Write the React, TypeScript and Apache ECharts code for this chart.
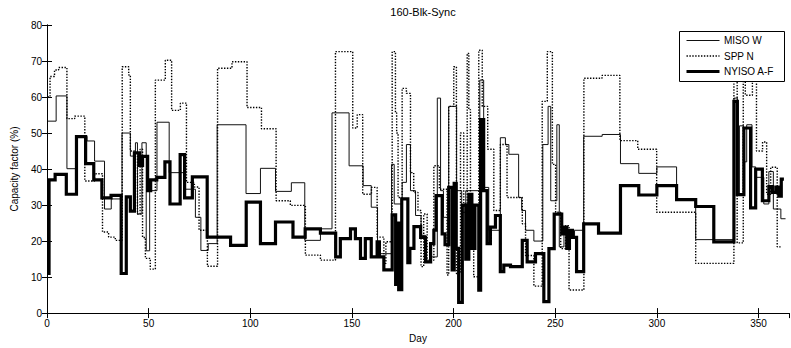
import React, { useEffect, useRef } from "react";
import * as echarts from "echarts";

const xTicks = [0, 50, 100, 150, 200, 250, 300, 350];
const yTicks = [0, 10, 20, 30, 40, 50, 60, 70, 80];
const seriesNames = ["MISO W", "SPP N", "NYISO A-F"];

const misoDays = [0.5,4.5,9.8,14,15,19.7,23.4,28.3,31.6,36.9,41,43.5,44.5,46.7,48.8,50.5,54.1,60.1,67.6,73,75.7,79.3,83.7,97.9,105,112.4,120.2,126.8,134.5,140.2,148.6,155.5,159.5,162.6,169.5,170.8,174.7,176.8,178.8,181.3,184,186.2,188.7,192,193.6,195,197.6,201.5,204,206,212.9,214.8,217.3,223,225.5,227.2,232,233.5,235.4,239.5,243.9,246.5,247.8,250.8,252,254.3,256,258,259.5,264,273.1,282.1,291.1,300,309.7,319.1,337.9,339.6,340.6,342.6,344.2,346.8,348.6,352.6,355.1,357.3,361,363.3];
const misoVals = [53.3,60.3,40.1,36.6,49.1,47.8,42.2,28.9,31.7,50,43.6,47.3,27.5,47.3,17.3,34,53,39,34.4,26.6,17.4,19.3,52.3,33.2,40.2,33.8,36.2,20.2,23.4,55.6,40.9,35.4,29.4,16.5,41.3,30.3,36.3,46.8,34,27.1,21.6,14.2,15.6,59.7,34,26.6,57.4,34,28,34,64.7,34.9,23,48.7,46.8,44.1,32.1,28.5,23,20,46.8,57.4,31.2,52.3,18.4,23.9,22.8,21,23,49.1,49.6,41.5,38.8,40.6,31.5,20.4,59.7,33,52,42,52.3,40.6,37.7,30.3,39.3,28.9,26.2,26.2];

const sppDays = [0.3,1.5,3.7,5.7,9.8,13.6,18.6,23.4,27.3,30.3,33.6,37,40.2,41,43,44.5,45.8,47,48.4,50.8,53.3,58.2,61.3,65.6,68.6,72.5,74.8,78.9,83.9,91,98.4,105.5,112.7,119.7,127.1,134.5,141.9,150.4,152.6,155.3,159.6,162.4,165.7,166.7,169.8,171.4,172,172.7,174.7,176.8,178.8,180.4,182.5,184,185.3,187,190.3,193,196.8,197.6,200.1,201.4,203.4,205,206.7,207.5,208.3,209.9,212.4,214.1,216.8,219.8,223,226.3,233.8,235.4,239.5,243.6,246.1,248.6,250.2,252.7,255.1,256.8,264.1,273,281.8,290.6,299.9,319.1,337.9,339.5,342.5,343.5,347,349,352,354,356,359.2,361.5];
const sppVals = [60,65.7,67.5,68.2,54,54.7,36.7,38.7,22.5,21.1,20.2,68.4,66.1,45,43.5,27.5,45.5,21,15.2,12.2,64.7,70.2,56.3,58.3,36.3,35,23,13,68,69.8,57.1,51.2,31.2,29.9,16.1,14.7,72.6,51.4,55.1,33,34.9,21.1,13.8,19.8,72.6,55.6,50,32.1,62.4,61,39,33.5,28.5,12.9,27.5,14.7,40.9,34.4,10.6,57.4,68.4,11,50,30.3,72.1,56.5,30,10.1,73,57.4,45.5,28.5,46.8,32.1,24.8,16,7.5,58.8,72.6,41.3,28,17.9,24.3,6.4,65.2,66,47.9,45.5,28,13.8,75,19.5,76,60.5,76,45,47.5,33,40.5,18.4,18.4];

const nyisoDays = [0,1,4,9.5,14.5,19,23,27,31.5,36.5,39,41,43,45.5,47,49.5,51,54,58,60.5,65.5,67.7,71.5,78.8,90.3,98,105,112.4,121,127,134.5,142,144.3,149.3,151.7,154.2,156.6,159.5,162.4,163.5,165.7,169.8,171.5,172.3,173,174.5,177.5,178.5,180.5,183.8,186.2,188.7,190.3,191.4,194.4,195.8,197.6,199.3,200.3,201.3,202.5,204.3,206,207.5,209,210.5,212.4,213.3,214.8,216.5,218.1,220.6,223,224.7,228,233.8,236.2,240.3,244.4,246.9,249.5,253.2,254.5,255.7,257,258.5,260.5,264,271.3,282.1,291.1,300,309.7,319.1,328,337.9,339.6,342.8,346.1,348.6,351.9,355.1,356.8,358.5,360,361.2,362.5];
const nyisoVals = [11,37,38.5,33,49,41.5,37,32,32.7,11,32.3,28.3,44.5,41,43.5,34,37,37.7,42,30.3,44,32,37.8,21.1,18.8,30.8,19.3,25.3,21.1,23.4,22.2,15.6,20.7,23.4,20.7,15.2,20.7,15.6,19.8,15.6,12,27.3,8,25,6.5,31.7,14,18,24,21,14.2,19.3,23,32.6,22,19,34.9,12,36,18,3,30,15,33,18,30,6.4,53.7,34,19.3,23.9,27.1,11.5,13.3,12.9,20.2,14.2,16.5,3.2,17.9,27.5,22,23.9,18,23,21,11.5,24.8,22.2,35.4,32.8,35.4,31.5,29.6,19.8,58.8,32.9,51.4,29.2,40,31.2,35.1,33.5,35,32.5,37.2,37.2];

const FONT = "'Liberation Sans', Arial, Helvetica, sans-serif";

function zip(days: number[], vals: number[]) {
  const n = Math.min(days.length, vals.length);
  const out: [number, number][] = [];
  for (let i = 0; i < n; i++) out.push([days[i], vals[i]]);
  return out;
}

export default function App() {
  const ref = useRef<HTMLDivElement>(null);
  useEffect(() => {
    if (!ref.current) return;
    const chart = echarts.init(ref.current, undefined, { renderer: "svg" });
    const axisCommon = {
      axisLine: { show: true, lineStyle: { color: "#000", width: 1 } },
      axisTick: { show: true, inside: true, length: 5, lineStyle: { color: "#000" } },
      splitLine: { show: false },
    };
    const legendStyles = [
      { stroke: "#111", lineWidth: 1 },
      { stroke: "#000", lineWidth: 1.4, lineDash: [1.4, 1.5] },
      { stroke: "#000", lineWidth: 3.2 },
    ];
    const legendRowY = [40.5, 56, 71.5];
    const legendChildren: any[] = [
      {
        type: "rect",
        z: 100,
        shape: { x: 679.5, y: 31.5, width: 105, height: 50 },
        style: { fill: "#fff", stroke: "#000", lineWidth: 1 },
      },
    ];
    seriesNames.forEach((nm, i) => {
      legendChildren.push({
        type: "line",
        z: 101,
        shape: { x1: 686.5, y1: legendRowY[i], x2: 719.5, y2: legendRowY[i] },
        style: legendStyles[i],
      });
      legendChildren.push({
        type: "text",
        z: 101,
        style: {
          text: nm,
          x: 724,
          y: legendRowY[i],
          fill: "#000",
          font: `10px ${FONT}`,
          verticalAlign: "middle",
          align: "left",
        },
      });
    });
    chart.setOption({
      animation: false,
      backgroundColor: "#fff",
      textStyle: { fontFamily: FONT },
      title: {
        text: "160-Blk-Sync",
        left: 418,
        textAlign: "center",
        top: 1,
        textStyle: { fontSize: 11, fontWeight: "normal", color: "#000", fontFamily: FONT },
      },
      grid: { left: 47, right: 2, top: 25, bottom: 31, containLabel: false },
      graphic: legendChildren,
      xAxis: [
        {
          type: "value",
          min: 0,
          max: 365,
          interval: 50,
          position: "bottom",
          ...axisCommon,
          axisLabel: {
            color: "#000",
            fontSize: 10,
            fontFamily: FONT,
            margin: 5,
            showMaxLabel: false,
            formatter: (v: number) => (xTicks.indexOf(v) >= 0 ? String(v) : ""),
          },
          name: "Day",
          nameLocation: "middle",
          nameGap: 18,
          nameTextStyle: { color: "#000", fontSize: 10, fontFamily: FONT },
        },
        {
          type: "value",
          min: 0,
          max: 365,
          interval: 50,
          position: "top",
          ...axisCommon,
          axisLabel: { show: false },
        },
      ],
      yAxis: [
        {
          type: "value",
          min: 0,
          max: 80,
          interval: 10,
          position: "left",
          ...axisCommon,
          axisLabel: {
            color: "#000",
            fontSize: 10,
            fontFamily: FONT,
            margin: 5,
            formatter: (v: number) => (yTicks.indexOf(v) >= 0 ? String(v) : ""),
          },
          name: "Capacity factor (%)",
          nameLocation: "middle",
          nameGap: 27,
          nameTextStyle: { color: "#000", fontSize: 10, fontFamily: FONT },
        },
        {
          type: "value",
          min: 0,
          max: 80,
          interval: 10,
          position: "right",
          ...axisCommon,
          axisLabel: { show: false },
        },
      ],
      series: [
        {
          name: seriesNames[0],
          type: "line",
          step: "end",
          symbol: "none",
          xAxisIndex: 0,
          yAxisIndex: 0,
          data: zip(misoDays, misoVals),
          lineStyle: { color: "#111", width: 1, type: "solid" },
          itemStyle: { color: "#111" },
        },
        {
          name: seriesNames[1],
          type: "line",
          step: "end",
          symbol: "none",
          xAxisIndex: 0,
          yAxisIndex: 0,
          data: zip(sppDays, sppVals),
          lineStyle: { color: "#000", width: 1.4, type: [1.4, 1.5] },
          itemStyle: { color: "#000" },
        },
        {
          name: seriesNames[2],
          type: "line",
          step: "end",
          symbol: "none",
          xAxisIndex: 0,
          yAxisIndex: 0,
          data: zip(nyisoDays, nyisoVals),
          lineStyle: { color: "#000", width: 3.2, type: "solid", join: "miter" },
          itemStyle: { color: "#000" },
        },
      ],
    });
    return () => chart.dispose();
  }, []);
  return (
    <div
      ref={ref}
      style={{ position: "absolute", left: 0, top: 0, width: 791, height: 348, background: "#fff" }}
    />
  );
}
